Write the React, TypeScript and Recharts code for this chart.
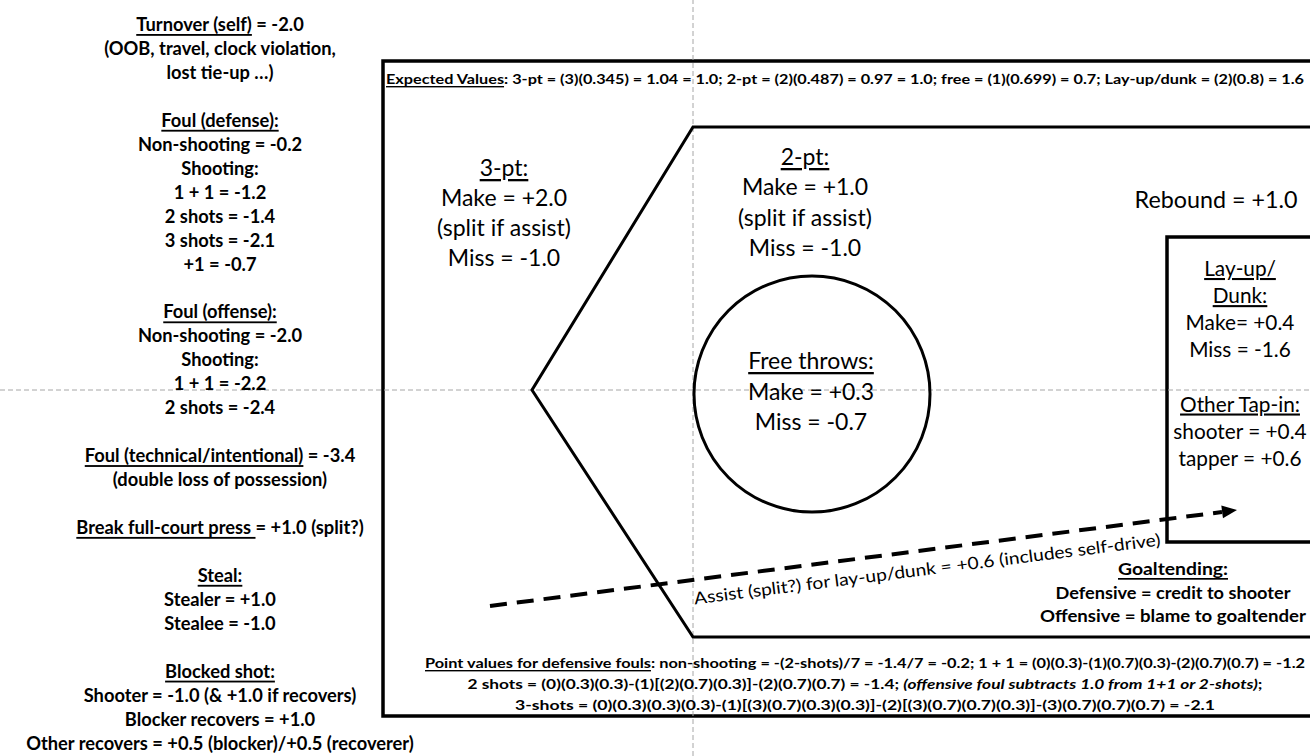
import React from 'react';
import { ScatterChart, XAxis, YAxis, Scatter, ReferenceLine, ReferenceArea, ReferenceDot } from 'recharts';

// text content; "_" toggles underline, "*" toggles italic
const leftColumn = [
  '_Turnover (self)_ = -2.0',
  '(OOB, travel, clock violation,',
  'lost tie-up …)',
  '',
  '_Foul (defense):_',
  'Non-shooting = -0.2',
  'Shooting:',
  '1 + 1 = -1.2',
  '2 shots = -1.4',
  '3 shots = -2.1',
  '+1 = -0.7',
  '',
  '_Foul (offense):_',
  'Non-shooting = -2.0',
  'Shooting:',
  '1 + 1 = -2.2',
  '2 shots = -2.4',
  '',
  '_Foul (technical/intentional)_ = -3.4',
  '(double loss of possession)',
  '',
  '_Break full-court press _= +1.0 (split?)',
  '',
  '_Steal:_',
  'Stealer = +1.0',
  'Stealee = -1.0',
  '',
  '_Blocked shot:_',
  'Shooter = -1.0 (& +1.0 if recovers)',
  'Blocker recovers = +1.0',
  'Other recovers = +0.5 (blocker)/+0.5 (recoverer)',
];
const threePt = ['_3-pt:_', 'Make = +2.0', '(split if assist)', 'Miss = -1.0'];
const twoPt = ['_2-pt:_', 'Make = +1.0', '(split if assist)', 'Miss = -1.0'];
const freeThrows = ['_Free throws:_', 'Make = +0.3', 'Miss = -0.7'];
const rebound = ['Rebound = +1.0'];
const layup = ['_Lay-up/_', '_Dunk:_', 'Make= +0.4', 'Miss = -1.6', '', '_Other Tap-in:_', 'shooter = +0.4', 'tapper = +0.6'];
const goaltending = ['_Goaltending:_', 'Defensive = credit to shooter', 'Offensive = blame to goaltender'];
const expectedValues = [
  '_Expected Values_: 3-pt = (3)(0.345) = 1.04 = 1.0; 2-pt = (2)(0.487) = 0.97 = 1.0; free = (1)(0.699) = 0.7; Lay-up/dunk = (2)(0.8) = 1.6',
];
const pointValues = [
  '_Point values for defensive fouls_: non-shooting = -(2-shots)/7 = -1.4/7 = -0.2; 1 + 1 = (0)(0.3)-(1)(0.7)(0.3)-(2)(0.7)(0.7) = -1.2',
  '2 shots = (0)(0.3)(0.3)-(1)[(2)(0.7)(0.3)]-(2)(0.7)(0.7) = -1.4; *(offensive foul subtracts 1.0 from 1+1 or 2-shots)*;',
  '3-shots  = (0)(0.3)(0.3)(0.3)-(1)[(3)(0.7)(0.3)(0.3)]-(2)[(3)(0.7)(0.7)(0.3)]-(3)(0.7)(0.7)(0.7) = -2.1',
];
const assistLabel = ['Assist (split?) for lay-up/dunk = +0.6 (includes self-drive)'];

// diagram geometry (page pixels, used as axis units)
const W = 1310;
const H = 756;
const court = [
  { x: 1330, y: 127 },
  { x: 693, y: 127 },
  { x: 532, y: 390 },
  { x: 693, y: 637 },
  { x: 1330, y: 637 },
];
const assistPath = [
  { x: 490, y: 606 },
  { x: 1222, y: 512 },
];
const arrowTip = [{ x: 1237, y: 510 }];
const FONT = 'Lato, "Open Sans", sans-serif';

function segments(line: string) {
  const out: { t: string; u: boolean; i: boolean }[] = [];
  let u = false;
  let it = false;
  let buf = '';
  for (const ch of line) {
    if (ch === '_' || ch === '*') {
      if (buf) out.push({ t: buf, u, i: it });
      buf = '';
      if (ch === '_') u = !u;
      else it = !it;
    } else buf += ch;
  }
  if (buf) out.push({ t: buf, u, i: it });
  return out;
}

const block = (lines: string[], x: number, y0: number, step: number) =>
  lines.map((text, i) => ({ x, y: y0 + i * step, text })).filter((d) => d.text);

interface TextStyle {
  size: number;
  weight?: number;
  lengths?: number[];
  rotate?: number;
}

const textShape = (style: TextStyle, lines: string[]) => (props: any) => {
  const { cx, cy, payload } = props;
  const idx = lines.indexOf(payload.text);
  const len = style.lengths ? style.lengths[idx] : undefined;
  return (
    <text
      x={cx}
      y={cy}
      textAnchor="middle"
      dominantBaseline="central"
      fontFamily={FONT}
      fontSize={style.size}
      fontWeight={style.weight ?? 400}
      fill="#000"
      textLength={len}
      lengthAdjust={len ? 'spacingAndGlyphs' : undefined}
      transform={style.rotate ? `rotate(${style.rotate} ${cx} ${cy})` : undefined}
    >
      {segments(payload.text).map((s, k) => (
        <tspan key={k} textDecoration={s.u ? 'underline' : undefined} fontStyle={s.i ? 'italic' : undefined}>
          {s.t}
        </tspan>
      ))}
    </text>
  );
};

const arrowHead = (props: any) => {
  const { cx, cy } = props;
  const a = Math.atan2(512 - 606, 1222 - 490);
  const back = 15;
  const half = 6.5;
  const bx = cx - back * Math.cos(a);
  const by = cy - back * Math.sin(a);
  const px = -Math.sin(a) * half;
  const py = Math.cos(a) * half;
  return <polygon points={`${cx},${cy} ${bx + px},${by + py} ${bx - px},${by - py}`} fill="#000" />;
};

const none = () => <g />;

export default function App() {
  return (
    <div style={{ position: 'absolute', left: 0, top: 0, width: W, height: H, background: '#fff' }}>
      <ScatterChart width={W} height={H} margin={{ top: 0, right: 0, bottom: 0, left: 0 }}>
        <XAxis type="number" dataKey="x" domain={[0, W]} hide allowDataOverflow />
        <YAxis type="number" dataKey="y" domain={[0, H]} reversed hide allowDataOverflow />

        <ReferenceLine x={693} stroke="#a6a6a6" strokeWidth={1} strokeDasharray="5 3" />
        <ReferenceLine y={390} stroke="#a6a6a6" strokeWidth={1} strokeDasharray="5 3" />

        <ReferenceArea x1={383} x2={1330} y1={61} y2={716} fill="none" fillOpacity={0} stroke="#000" strokeWidth={3.5} ifOverflow="hidden" />
        <ReferenceArea x1={1167} x2={1330} y1={237} y2={542} fill="none" fillOpacity={0} stroke="#000" strokeWidth={3.5} ifOverflow="hidden" />
        <ReferenceDot x={812} y={394} r={118} fill="none" stroke="#000" strokeWidth={3} />

        <Scatter data={court} line={{ stroke: '#000', strokeWidth: 3 }} shape={none} isAnimationActive={false} />
        <Scatter data={assistPath} line={{ stroke: '#000', strokeWidth: 4, strokeDasharray: '17 10' }} shape={none} isAnimationActive={false} />
        <Scatter data={arrowTip} shape={arrowHead} isAnimationActive={false} />

        <Scatter data={block(leftColumn, 220, 24, 23.95)} shape={textShape({ size: 18.3, weight: 700 }, leftColumn)} isAnimationActive={false} />
        <Scatter data={block(threePt, 504, 167, 30)} shape={textShape({ size: 23 }, threePt)} isAnimationActive={false} />
        <Scatter data={block(twoPt, 805, 156, 30.3)} shape={textShape({ size: 23 }, twoPt)} isAnimationActive={false} />
        <Scatter data={block(freeThrows, 811, 360, 30.5)} shape={textShape({ size: 23 }, freeThrows)} isAnimationActive={false} />
        <Scatter data={block(rebound, 1216, 199, 0)} shape={textShape({ size: 23.3 }, rebound)} isAnimationActive={false} />
        <Scatter data={block(layup, 1240, 267, 27.1)} shape={textShape({ size: 20.8 }, layup)} isAnimationActive={false} />
        <Scatter data={block(goaltending, 1173, 568, 23.5)} shape={textShape({ size: 17, weight: 700, lengths: [110, 235, 266] }, goaltending)} isAnimationActive={false} />
        <Scatter data={block(expectedValues, 845, 78, 0)} shape={textShape({ size: 14, weight: 700, lengths: [918] }, expectedValues)} isAnimationActive={false} />
        <Scatter data={block(pointValues, 865, 662, 21)} shape={textShape({ size: 14, weight: 700, lengths: [880, 795, 700] }, pointValues)} isAnimationActive={false} />
        <Scatter data={block(assistLabel, 927, 568, 0)} shape={textShape({ size: 17, lengths: [470], rotate: -7.2 }, assistLabel)} isAnimationActive={false} />
      </ScatterChart>
    </div>
  );
}
